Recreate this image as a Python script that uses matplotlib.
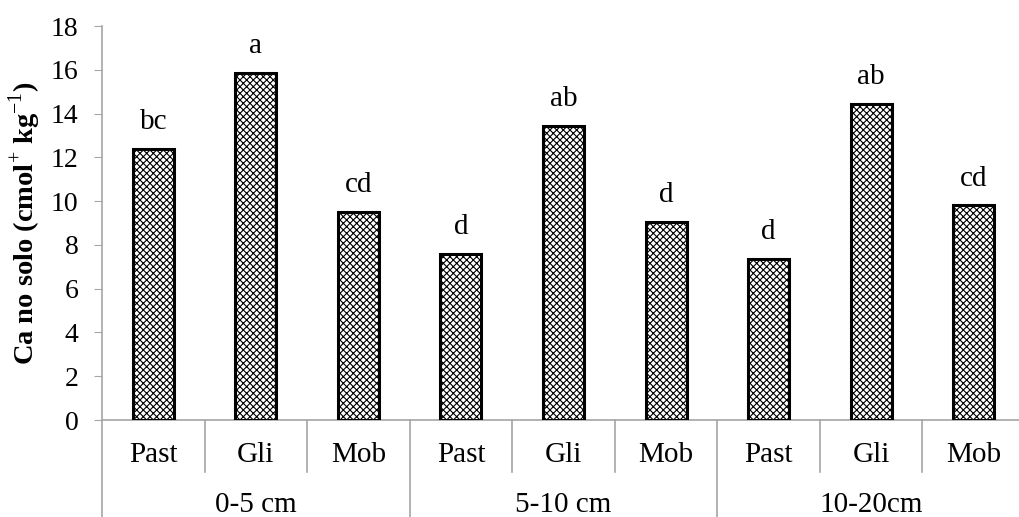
import numpy as np
import matplotlib.pyplot as plt
from matplotlib.transforms import blended_transform_factory

# data
groups = ['0-5 cm', '5-10 cm', '10-20cm']
systems = ['Past', 'Gli', 'Mob']
ca_values = [12.4, 15.85, 9.5, 7.58, 13.45, 9.04, 7.35, 14.42, 9.8]
letters = ['bc', 'a', 'cd', 'd', 'ab', 'd', 'd', 'ab', 'cd']

plt.rcParams['font.family'] = ['Liberation Serif', 'DejaVu Serif']
plt.rcParams['hatch.linewidth'] = 0.8
plt.rcParams['mathtext.fontset'] = 'custom'
plt.rcParams['mathtext.rm'] = 'Liberation Serif'
plt.rcParams['mathtext.bf'] = 'Liberation Serif:bold'

axis_gray = '#a6a6a6'

fig = plt.figure(figsize=(10.2, 5.17), dpi=100)
ax = fig.add_axes([102/1020, 97/517, 923/1020, 394/517])

x = np.arange(len(ca_values))
# hatched fill, then the thick black outline
ax.bar(x, ca_values, width=0.4, color='white', edgecolor='black', hatch='xxxxx', linewidth=0, zorder=2)
ax.bar(x, ca_values, width=0.4, fill=False, edgecolor='black', linewidth=2.2, zorder=3)

for xi, v, l in zip(x, ca_values, letters):
    ax.annotate(l, (xi, v), xytext=(0, 10), textcoords='offset points',
                ha='center', va='bottom', fontsize=21)

ax.set_xlim(-0.5, 8.5)
ax.set_ylim(0, 18)
ax.set_yticks(np.arange(0, 19, 2))
ax.tick_params(axis='y', labelsize=20, length=6, color=axis_gray, pad=11)
ax.set_xticks([])
for s in ['top', 'right']:
    ax.spines[s].set_visible(False)
for s in ['left', 'bottom']:
    ax.spines[s].set_color(axis_gray)
    ax.spines[s].set_linewidth(1.2)

# multi-level category axis
trans = blended_transform_factory(ax.transData, ax.transAxes)
for i in range(1, len(ca_values)):
    bottom = -0.246 if i % 3 == 0 else -0.132
    ax.plot([i - 0.5, i - 0.5], [0, bottom], color=axis_gray, lw=1.2,
            transform=trans, clip_on=False)
ax.plot([-0.5, -0.5], [0, -0.246], color=axis_gray, lw=1.2, transform=trans, clip_on=False)

for i in range(len(ca_values)):
    ax.text(i, -0.089, systems[i % 3], transform=trans, ha='center', va='center', fontsize=21)
for g, name in enumerate(groups):
    ax.text(3*g + 1, -0.216, name, transform=trans, ha='center', va='center', fontsize=21)

fig.text(25/1020, (517 - 223)/517, r'Ca no solo (cmol$^{+}$ kg$^{-1}$)', rotation=90,
         ha='center', va='center', fontsize=20.5, fontweight='bold')

fig.savefig('out.png', dpi=100)
